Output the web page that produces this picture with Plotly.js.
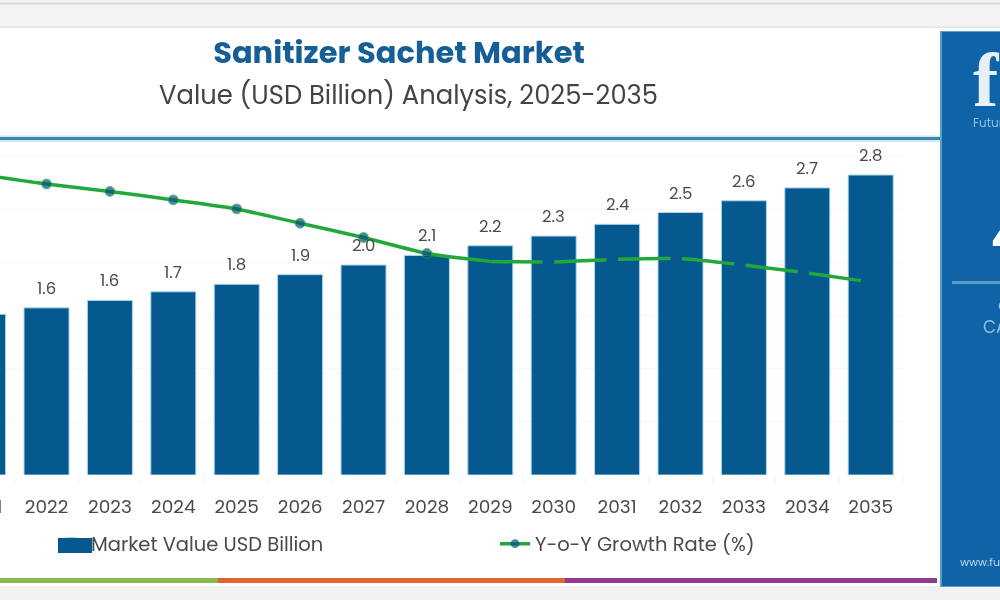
<!DOCTYPE html>
<html><head><meta charset="utf-8">
<script src="https://cdn.plot.ly/plotly-3.0.1.min.js"></script>
<style>
html,body{margin:0;padding:0;width:1000px;height:600px;overflow:hidden;background:#fff}
#chart{position:absolute;left:-100px;top:0;width:1200px;height:600px;filter:blur(0.7px)}
#chart .legendpoints path{stroke:none !important}
</style></head><body><div id="chart"></div>
<script>
const years = ['2021','2022','2023','2024','2025','2026','2027','2028','2029','2030','2031','2032','2033','2034','2035'];
const marketValue = [1.5,1.56,1.63,1.71,1.78,1.87,1.96,2.05,2.14,2.23,2.34,2.45,2.56,2.68,2.8];
const labelYears = ['2022','2023','2024','2025','2026','2027','2028','2029','2030','2031','2032','2033','2034','2035'];
const labelHeights = [1.56,1.63,1.71,1.78,1.87,1.96,2.05,2.14,2.23,2.34,2.45,2.56,2.68,2.8];
const valueLabels = ['1.6','1.6','1.7','1.8','1.9','2.0','2.1','2.2','2.3','2.4','2.5','2.6','2.7','2.8'];
const growthYears = ['2021','2022','2023','2024','2025','2026','2027','2028','2029'];
const growthActual = [5.66,5.49,5.35,5.19,5.02,4.75,4.48,4.18,4.03];
const growthMarkerSize = [10,10,10,10,10,10,10,10,0];
const forecastYears = ['2029','2030','2031','2032','2033','2034','2035'];
const growthForecast = [4.03,4.02,4.07,4.08,3.96,3.81,3.64];

const W=1200,H=600,OFF=100;
const px=x=>(x+OFF)/W, py=y=>(H-y)/H;
const BLUE='#05598f', GREEN='#22a83a', TXT='#4a4a4a', FONT='Poppins, "Open Sans", Inter, sans-serif';
const rect=(x0,y0,x1,y1,c,layer)=>({type:'rect',xref:'paper',yref:'paper',x0:px(x0),x1:px(x1),y0:py(y0),y1:py(y1),fillcolor:c,line:{width:0},layer:layer||'below'});
const note=(x,y,text,size,color,anchor,family)=>({xref:'paper',yref:'paper',x:px(x),y:py(y),text,showarrow:false,xanchor:anchor||'left',yanchor:'middle',font:{size,color,family:family||FONT}});

const traces=[
 {type:'bar',x:years,y:marketValue,name:'Market Value USD Billion',width:0.71,
  marker:{color:BLUE,line:{color:'#a9d6ee',width:1}},hoverinfo:'x+y'},
 {type:'scatter',mode:'lines+markers',x:growthYears,y:growthActual,yaxis:'y2',name:'Y-o-Y Growth Rate (%)',
  line:{color:GREEN,width:3.5,shape:'spline',smoothing:0.6},marker:{color:'#045080',size:growthMarkerSize}},
 {type:'scatter',mode:'lines',x:forecastYears,y:growthForecast,yaxis:'y2',showlegend:false,hoverinfo:'x+y',
  line:{color:GREEN,width:3.5,shape:'spline',smoothing:0.6,dash:'52px,12px'}}
];
const barLabels=labelYears.map((yr,i)=>({xref:'x',yref:'y',x:years.indexOf(yr),y:labelHeights[i],text:valueLabels[i],showarrow:false,
  yanchor:'bottom',yshift:6,font:{size:16.5,color:TXT,family:FONT}}));
const layout={
 width:W,height:H,margin:{l:0,r:0,t:0,b:0,pad:0},paper_bgcolor:'#fff',plot_bgcolor:'rgba(0,0,0,0)',
 font:{family:FONT,color:TXT},bargap:0.29,
 title:{text:'<b>Sanitizer Sachet Market</b>',x:px(399),xanchor:'center',xref:'paper',y:py(52),yanchor:'middle',yref:'paper',font:{size:30.5,color:'#155f96',family:FONT}},
 xaxis:{type:'category',categoryorder:'array',categoryarray:years,domain:[0,px(905)],range:[-1.311,14.541],
  showline:false,showgrid:false,ticks:'outside',tickson:'boundaries',ticklen:8,tickcolor:'#f2f2f2',tickwidth:1,ticklabelstandoff:18,
  tickfont:{size:18.5,color:TXT,family:FONT},zeroline:false,fixedrange:true},
 yaxis:{domain:[py(475),py(140)],range:[0,3.127],showgrid:false,showline:false,zeroline:false,showticklabels:false,ticks:'',fixedrange:true},
 yaxis2:{overlaying:'y',side:'right',domain:[py(475),py(140)],range:[0,6.32],dtick:1,showgrid:true,gridcolor:'#f7f7f7',gridwidth:1,zeroline:false,showline:false,showticklabels:false,ticks:'',fixedrange:true},
 showlegend:true,
 legend:{orientation:'h',xref:'paper',yref:'paper',x:px(51),y:py(544),xanchor:'left',yanchor:'middle',entrywidth:399,entrywidthmode:'pixels',
  font:{size:19.5,color:TXT,family:FONT},bgcolor:'rgba(0,0,0,0)',traceorder:'normal'},
 shapes:[
  rect(-100,0,1100,28,'#f3f3f3'),
  rect(-100,2.5,1100,4.5,'#d9d9d9'),
  rect(-100,26.5,1100,28,'#e4e4e4'),
  rect(-100,586,1100,600,'#f2f2f2'),
  rect(-100,135.5,941,142,'#d2e6f2'),
  rect(-100,137,941,140,'#3f85b3'),
  rect(-100,578,218,583,'#8dba4e'),
  rect(218,578,565,583,'#e0662f'),
  rect(565,578,937,583,'#8e3a96'),
  rect(58,538,92,553,BLUE),
  rect(940,31,1100,587,'#5b9cc9','above'),
  rect(942,32,1100,586,'#0e64a6','above'),
  rect(952,281,1100,284,'#5b9cc9','above')
 ],
 annotations:barLabels.concat([
  note(408,95,'Value (USD Billion) Analysis, 2025-2035',25.8,'#444','center'),
  note(971,80,'<b>f</b>',76,'#e6f0f7','left','"Liberation Serif", serif'),
  note(971,122,'Future Market Insights',12,'#8fc0e2'),
  note(989,238,'<b>4.8%</b>',38,'#ffffff'),
  note(996,305,'Global',15,'#8fc0e2'),
  note(981,327,'CAGR',17,'#8fc0e2'),
  note(958,562,'www.futuremarketinsights.com',11,'#bcd9ee')
 ])
};
Plotly.newPlot('chart',traces,layout,{displayModeBar:false,responsive:false});
</script></body></html>
